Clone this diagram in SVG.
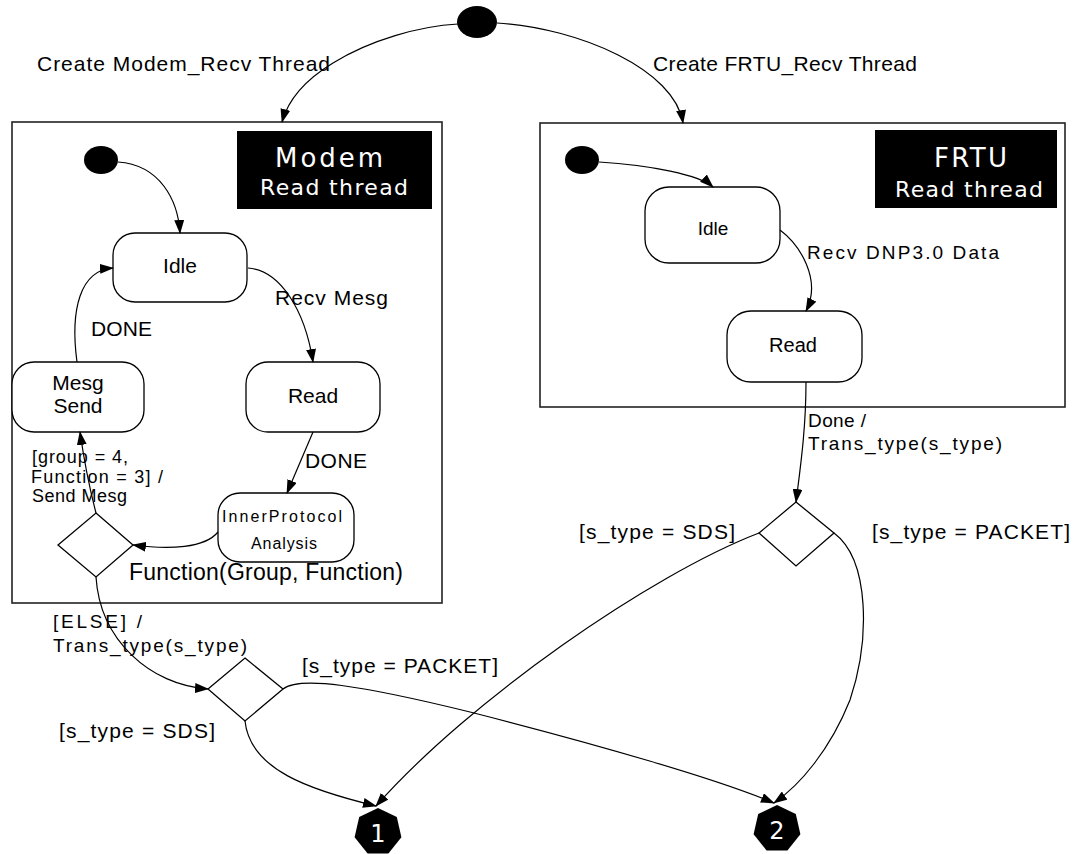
<svg xmlns="http://www.w3.org/2000/svg" width="1077" height="854" viewBox="0 0 1077 854">
<style>
.lbl{font-family:"Liberation Sans",Arial,sans-serif;fill:#000}
.hdr{font-family:"DejaVu Sans",Verdana,sans-serif;fill:#fff}
.node{fill:#fff;stroke:#000;stroke-width:1.3}
.cont{fill:#fff;stroke:#222;stroke-width:1.6}
.edge{fill:none;stroke:#000;stroke-width:1.2;marker-end:url(#arr)}
.dia{fill:#fff;stroke:#000;stroke-width:1.3}
</style>
<defs>
<marker id="arr" markerWidth="14" markerHeight="10" refX="13" refY="5" orient="auto" markerUnits="userSpaceOnUse">
<path d="M0,0 L14,5 L0,10 Z" fill="#000"/>
</marker>
</defs>
<rect width="1077" height="854" fill="#fff"/>

<g id="modem-container">
<rect class="cont" x="12" y="122" width="430" height="481"/>
<rect x="237" y="131" width="195" height="78" fill="#000"/>
<text class="hdr" x="275" y="167" font-size="26" textLength="108" lengthAdjust="spacing">Modem</text>
<text class="hdr" x="260" y="195" font-size="22" textLength="148" lengthAdjust="spacing">Read thread</text>
</g>
<g id="frtu-container">
<rect class="cont" x="540" y="123" width="525" height="284"/>
<rect x="875" y="130" width="182" height="78" fill="#000"/>
<text class="hdr" x="934" y="167" font-size="26" textLength="73" lengthAdjust="spacing">FRTU</text>
<text class="hdr" x="895" y="197" font-size="22" textLength="148" lengthAdjust="spacing">Read thread</text>
</g>

<g id="start-top"><ellipse cx="477" cy="22" rx="20" ry="16" fill="#000"/></g>
<g id="start-modem"><ellipse cx="101" cy="160" rx="17" ry="14" fill="#000"/></g>
<g id="start-frtu"><ellipse cx="582" cy="160" rx="17" ry="14" fill="#000"/></g>

<g id="modem-idle">
<rect class="node" x="113" y="233" width="134" height="69" rx="22"/>
<text class="lbl" x="180" y="273" font-size="21" text-anchor="middle">Idle</text>
</g>
<g id="modem-read">
<rect class="node" x="246" y="362" width="134" height="70" rx="22"/>
<text class="lbl" x="313" y="403" font-size="21" text-anchor="middle">Read</text>
</g>
<g id="modem-send">
<rect class="node" x="12" y="362" width="132" height="70" rx="22"/>
<text class="lbl" x="78" y="390" font-size="21" text-anchor="middle">Mesg</text>
<text class="lbl" x="78" y="413" font-size="21" text-anchor="middle">Send</text>
</g>
<g id="modem-inner">
<rect class="node" x="218" y="493" width="136" height="69" rx="22"/>
<text class="lbl" x="222" y="522" font-size="16" textLength="120" lengthAdjust="spacing">InnerProtocol</text>
<text class="lbl" x="251" y="549" font-size="16" textLength="66" lengthAdjust="spacing">Analysis</text>
</g>
<g id="modem-choice"><polygon class="dia" points="96,513 133,545 96,577 58,545"/></g>
<g id="type-choice-left"><polygon class="dia" points="245,658 283,689 245,721 208,689"/></g>

<g id="frtu-idle">
<rect class="node" x="645" y="187" width="135" height="76" rx="24"/>
<text class="lbl" x="713" y="235" font-size="19" text-anchor="middle">Idle</text>
</g>
<g id="frtu-read">
<rect class="node" x="727" y="311" width="135" height="71" rx="24"/>
<text class="lbl" x="793" y="352" font-size="20" text-anchor="middle">Read</text>
</g>
<g id="type-choice-right"><polygon class="dia" points="796,502 834,533 796,566 759,533"/></g>

<g id="exit-1">
<polygon points="378,808 396.8,817 401.4,837.3 388.4,853.6 367.6,853.6 354.6,837.3 359.2,817" fill="#000"/>
<text x="378" y="842" font-size="24" text-anchor="middle" font-family="DejaVu Sans,sans-serif" fill="#fff">1</text>
</g>
<g id="exit-2">
<polygon points="777,805 795.8,814 800.4,834.3 787.4,850.6 766.6,850.6 753.6,834.3 758.2,814" fill="#000"/>
<text x="777" y="839" font-size="24" text-anchor="middle" font-family="DejaVu Sans,sans-serif" fill="#fff">2</text>
</g>

<g id="connectors">
<path class="edge" d="M458,24 C420,26 370,40 333,63 C305,80 288,100 282,122"/>
<path class="edge" d="M497,23 C580,28 675,70 683,123"/>
<path class="edge" d="M118,162 C160,165 178,200 180,233"/>
<path class="edge" d="M248,268 C280,270 305,310 313,362"/>
<path class="edge" d="M313,432 L287,493"/>
<path class="edge" d="M218,532 C205,548 170,550 133,545"/>
<path class="edge" d="M96,513 C90,490 84,460 80,432"/>
<path class="edge" d="M77,362 C70,310 80,270 113,268"/>
<path class="edge" d="M96,577 C100,640 150,685 208,689"/>
<path class="edge" d="M245,721 C250,770 310,790 376,806"/>
<path class="edge" d="M283,689 C300,676 360,685 470,712 C600,745 720,780 774,803"/>
<path class="edge" d="M599,162 C650,165 700,175 713,187"/>
<path class="edge" d="M780,230 C800,245 822,280 806,311"/>
<path class="edge" d="M806,382 C806,430 800,470 796,502"/>
<path class="edge" d="M759,533 C650,575 470,700 376,806"/>
<path class="edge" d="M834,533 C870,560 870,640 850,700 C830,750 800,785 774,803"/>
</g>

<g id="labels">
<text class="lbl" x="37" y="71" font-size="21" textLength="293" lengthAdjust="spacing">Create Modem_Recv Thread</text>
<text class="lbl" x="653" y="71" font-size="21" textLength="264" lengthAdjust="spacing">Create FRTU_Recv Thread</text>
<text class="lbl" x="275" y="305" font-size="21" textLength="113" lengthAdjust="spacing">Recv Mesg</text>
<text class="lbl" x="91" y="336" font-size="21" textLength="61" lengthAdjust="spacing">DONE</text>
<text class="lbl" x="305" y="468" font-size="21" textLength="62" lengthAdjust="spacing">DONE</text>
<text class="lbl" x="32" y="463" font-size="18" textLength="96" lengthAdjust="spacing">[group = 4,</text>
<text class="lbl" x="31" y="483" font-size="18" textLength="132" lengthAdjust="spacing">Function = 3] /</text>
<text class="lbl" x="32" y="502" font-size="18" textLength="95" lengthAdjust="spacing">Send Mesg</text>
<text class="lbl" x="129" y="580" font-size="23" textLength="274" lengthAdjust="spacing">Function(Group, Function)</text>
<text class="lbl" x="53" y="628" font-size="19" textLength="89" lengthAdjust="spacing">[ELSE] /</text>
<text class="lbl" x="53" y="652" font-size="19" textLength="194" lengthAdjust="spacing">Trans_type(s_type)</text>
<text class="lbl" x="59" y="738" font-size="21" textLength="156" lengthAdjust="spacing">[s_type = SDS]</text>
<text class="lbl" x="302" y="673" font-size="21" textLength="196" lengthAdjust="spacing">[s_type = PACKET]</text>
<text class="lbl" x="807" y="259" font-size="19" textLength="192" lengthAdjust="spacing">Recv DNP3.0 Data</text>
<text class="lbl" x="808" y="427" font-size="19" textLength="58" lengthAdjust="spacing">Done /</text>
<text class="lbl" x="808" y="450" font-size="19" textLength="194" lengthAdjust="spacing">Trans_type(s_type)</text>
<text class="lbl" x="579" y="539" font-size="21" textLength="156" lengthAdjust="spacing">[s_type = SDS]</text>
<text class="lbl" x="872" y="539" font-size="21" textLength="198" lengthAdjust="spacing">[s_type = PACKET]</text>
</g>
</svg>
